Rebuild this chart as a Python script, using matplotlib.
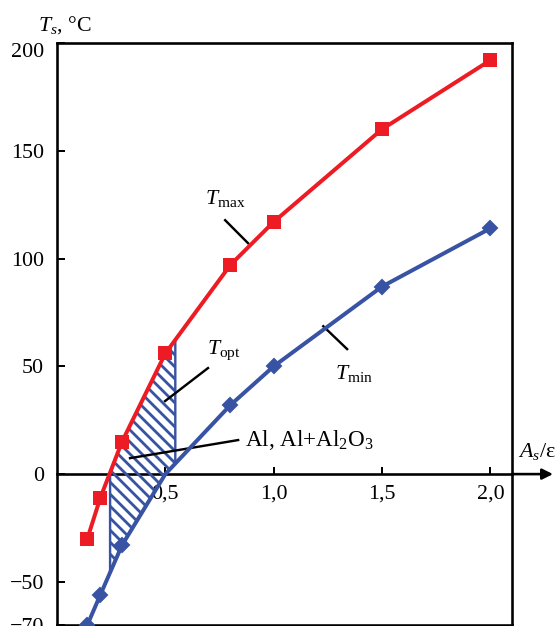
import numpy as np
import matplotlib
matplotlib.use('Agg')
import matplotlib.pyplot as plt

# valores
ratio = [0.14, 0.2, 0.3, 0.5, 0.8, 1.0, 1.5, 2.0]
t_max = [-30, -11, 15, 56, 97, 117, 160, 192]
t_min = [-70, -56, -33, 0, 32, 50, 87, 114]
t_min_marked = [0, 1, 2, 4, 5, 6, 7]
opt_range = [0.245, 0.546]

x_ticks = [0.5, 1.0, 1.5, 2.0]
x_ticklabels = ['0,5', '1,0', '1,5', '2,0']
y_ticks = [-70, -50, 0, 50, 100, 150, 200]
y_ticklabels = ['\u221270', '\u221250', '0', '50', '100', '150', '200']

red = '#ED1C24'
blue = '#3953A4'

plt.rcParams['font.family'] = 'Liberation Serif'
plt.rcParams['mathtext.fontset'] = 'custom'
plt.rcParams['mathtext.rm'] = 'Liberation Serif'
plt.rcParams['mathtext.it'] = 'Liberation Serif:italic'
plt.rcParams['hatch.linewidth'] = 1.4
plt.rcParams['hatch.color'] = blue
fs = 11

fig = plt.figure(figsize=(555 / 144, 626 / 144), dpi=144)
ax = fig.add_axes([57 / 555, 1 / 626, 455 / 555, 582 / 626])
ax.set_xlim(0, 2.1)
ax.set_ylim(-70, 200)

# região ótima hachurada
xs = np.linspace(opt_range[0], opt_range[1], 60)
ax.fill_between(xs, np.interp(xs, ratio, t_min), np.interp(xs, ratio, t_max),
                facecolor='none', edgecolor=blue, hatch='\\\\\\\\', lw=1.2, zorder=2)

ax.plot(ratio, t_max, color=red, lw=2, marker='s', ms=6.3, zorder=4)
ax.plot(ratio, t_min, color=blue, lw=2, marker='D', ms=5, markevery=t_min_marked, zorder=3)

# eixos
for s in ax.spines.values():
    s.set_linewidth(1.3)
ax.tick_params(axis='x', bottom=False, labelbottom=False)
ax.set_yticks(y_ticks)
ax.set_yticklabels(y_ticklabels, fontsize=fs)
ax.tick_params(axis='y', direction='in', length=4, width=1, pad=6.5)
ax.get_yticklabels()[-1].set_verticalalignment('top')

sec = ax.secondary_xaxis(70 / 270)
sec.set_xticks(x_ticks)
sec.set_xticklabels(x_ticklabels, fontsize=fs)
sec.tick_params(direction='in', length=3.5, width=1, pad=5)
sec.spines['bottom'].set_linewidth(1.3)
ax.annotate('', xy=(496 / 455, 0), xytext=(1.0, 0), xycoords=ax.get_yaxis_transform(),
            arrowprops=dict(arrowstyle='-|>', color='k', lw=1.3, mutation_scale=11,
                            shrinkA=0, shrinkB=0), annotation_clip=False)

# rótulos
fig.text(65 / 555, 1 - 25 / 626, '$T_s$, °C', fontsize=fs, ha='center', va='center')
ax.text(2.217, 10.5, '$A_s$/ε', fontsize=fs, ha='center', va='center', clip_on=False)

ax.plot([0.776, 0.882], [117.8, 107.1], color='k', lw=1.2)
ax.text(0.775, 128, r'$T_{\mathrm{max}}$', fontsize=fs, ha='center', va='center')
ax.plot([1.229, 1.339], [68.6, 58], color='k', lw=1.2)
ax.text(1.37, 46.5, r'$T_{\mathrm{min}}$', fontsize=fs, ha='center', va='center')
ax.plot([0.697, 0.499], [49.2, 33.9], color='k', lw=1.2)
ax.text(0.77, 57.5, r'$T_{\mathrm{opt}}$', fontsize=fs, ha='center', va='center')
ax.plot([0.836, 0.337], [15.8, 7.4], color='k', lw=1.2)
ax.text(0.868, 16, 'Al, Al+Al$_2$O$_3$', fontsize=fs + 0.5, ha='left', va='center')

fig.savefig('out.png', dpi=144)
